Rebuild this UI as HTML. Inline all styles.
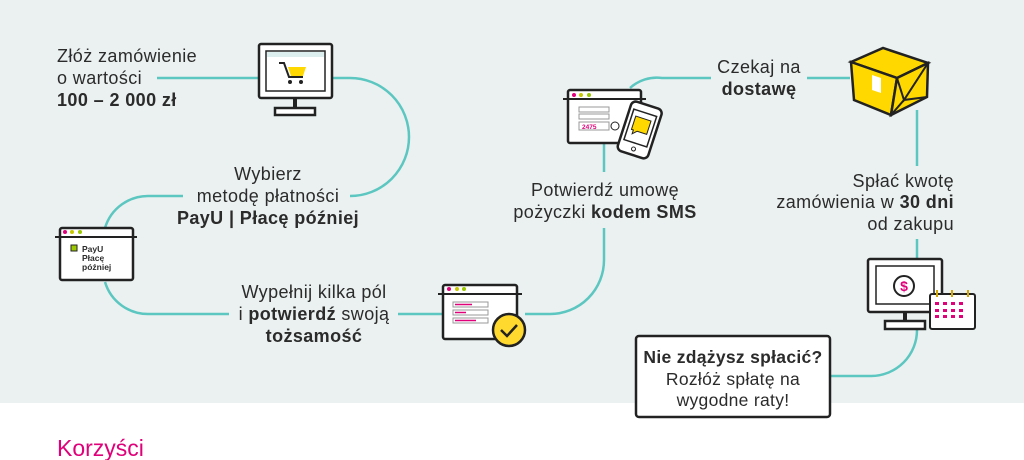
<!DOCTYPE html>
<html><head><meta charset="utf-8"><style>
html,body{margin:0;padding:0;background:#fff;}
svg{display:block}
text{font-family:"Liberation Sans",sans-serif;fill:#2b2b2b;}
</style></head><body>
<svg width="1024" height="460" viewBox="0 0 1024 460" xmlns="http://www.w3.org/2000/svg">
<rect x="0" y="0" width="1024" height="403" fill="#ebf1f1"/>
<g fill="none" stroke="#5cc6c0" stroke-width="2.5">
<path d="M157 78 H258"/>
<path d="M333 78 H350 A59 59 0 0 1 350 196"/>
<path d="M183 196 H150 A45 45 0 0 0 105 228"/>
<path d="M105 282 A45 45 0 0 0 150 314 H229"/>
<path d="M398 314 H443"/>
<path d="M525 314 H550 A54 54 0 0 0 604 260 V228"/>
<path d="M604 172 V143"/>
<path d="M630 88 A40 40 0 0 1 662 78 H711"/>
<path d="M807 78 H850"/>
<path d="M917 110 V166"/>
<path d="M917 239 V258"/>
<path d="M917 330 A46 46 0 0 1 871 376 H831"/>
</g>
<g stroke="#222" stroke-width="2.5">
<rect x="259" y="44" width="73" height="54" rx="2" fill="#fff"/>
<rect x="266" y="51" width="59" height="40" fill="#fff" stroke-width="1.5"/>
<rect x="267" y="52" width="57" height="5" fill="#dceeee" stroke="none"/>
<rect x="293" y="98" width="4" height="10" fill="#222" stroke="none"/>
<rect x="275" y="108" width="40" height="7" fill="#fff"/>
</g>
<path d="M288 67 H306 L303 76 H291 Z" fill="#ffd800"/>
<path d="M279 63 H284 L289 77 H303" fill="none" stroke="#222" stroke-width="2"/>
<circle cx="290" cy="82" r="2" fill="#222"/><circle cx="301" cy="82" r="2" fill="#222"/>
<rect x="60" y="228" width="73" height="52" rx="2" fill="#fff" stroke="#222" stroke-width="2.5"/>
<line x1="55" y1="237" x2="137" y2="237" stroke="#222" stroke-width="2"/>
<circle cx="65" cy="232" r="2" fill="#e0007a"/><circle cx="72" cy="232" r="2" fill="#c8c800"/><circle cx="80" cy="232" r="2" fill="#9bc800"/>
<rect x="71" y="245" width="6" height="6" fill="#9bc800" stroke="#222"/>
<text x="82" y="252" font-size="8.5" font-weight="bold">PayU</text>
<text x="82" y="261" font-size="8.5" font-weight="bold">Płacę</text>
<text x="82" y="270" font-size="8.5" font-weight="bold">później</text>
<rect x="443" y="285" width="74" height="54" rx="2" fill="#fff" stroke="#222" stroke-width="2.5"/>
<line x1="438" y1="294" x2="522" y2="294" stroke="#222" stroke-width="2"/>
<circle cx="449" cy="289" r="2" fill="#e0007a"/><circle cx="457" cy="289" r="2" fill="#c8c800"/><circle cx="464" cy="289" r="2" fill="#9bc800"/>
<g fill="#fff" stroke="#999" stroke-width="1"><rect x="453" y="302" width="35" height="5"/><rect x="453" y="310" width="35" height="5"/><rect x="453" y="318" width="35" height="5"/></g>
<g stroke="#e0007a" stroke-width="1.5"><line x1="455" y1="304.5" x2="472" y2="304.5"/><line x1="455" y1="312.5" x2="466" y2="312.5"/><line x1="455" y1="320.5" x2="476" y2="320.5"/></g>
<circle cx="509" cy="330" r="16" fill="#ffd92e" stroke="#222" stroke-width="2.5"/>
<path d="M501 330 L507 336 L517 325" fill="none" stroke="#222" stroke-width="2.5"/>
<rect x="568" y="90" width="73" height="53" rx="2" fill="#fff" stroke="#222" stroke-width="2.5"/>
<line x1="563" y1="99" x2="646" y2="99" stroke="#222" stroke-width="2"/>
<circle cx="574" cy="95" r="2" fill="#e0007a"/><circle cx="581" cy="95" r="2" fill="#c8c800"/><circle cx="589" cy="95" r="2" fill="#9bc800"/>
<g fill="#fff" stroke="#999"><rect x="579" y="107" width="30" height="5"/><rect x="579" y="114" width="30" height="5"/><rect x="579" y="122" width="30" height="8"/></g>
<text x="582" y="129" font-size="6.5" font-weight="bold" style="fill:#e0007a">2475</text>
<circle cx="615" cy="126" r="4" fill="#fff" stroke="#222"/>
<g transform="rotate(18 640 129)"><rect x="624" y="104" width="32" height="52" rx="5" fill="#fff" stroke="#222" stroke-width="2.5"/><rect x="628" y="112" width="24" height="32" fill="#fff" stroke="#222" stroke-width="1.5"/><path d="M632 118 H648 V132 H638 L634 136 V132 H632 Z" fill="#ffd800" stroke="#222"/><circle cx="640" cy="150" r="2" fill="none" stroke="#222"/></g>
<path d="M851 62 L883 48 L928 63 L897 78 Z" fill="#ffd800" stroke="#222" stroke-width="2.5"/>
<path d="M851 62 L897 78 L891 115 L854 100 Z" fill="#ffd800" stroke="#222" stroke-width="2.5"/>
<path d="M897 78 L928 63 L927 97 L891 115 Z" fill="#ffd800" stroke="#222" stroke-width="2.5"/>
<path d="M897 78 L904 100 L928 63 M891 115 L904 100 L927 97" fill="none" stroke="#222" stroke-width="2"/>
<path d="M872 75 L881 78 L881 93 L872 90 Z" fill="#fff"/>
<g stroke="#222" stroke-width="2.5">
<rect x="868" y="259" width="74" height="53" rx="2" fill="#fff"/>
<rect x="876" y="266" width="58" height="38" fill="#fff" stroke-width="1.5"/>
<rect x="903" y="312" width="4" height="9" fill="#222" stroke="none"/>
<rect x="885" y="321" width="40" height="8" fill="#fff"/>
</g>
<circle cx="904" cy="286" r="10" fill="#fff" stroke="#222" stroke-width="2"/>
<text x="904" y="291" font-size="14" font-weight="bold" text-anchor="middle" style="fill:#e0007a">$</text>
<rect x="930" y="294" width="45" height="35" rx="2" fill="#fff" stroke="#222" stroke-width="2"/>
<g fill="#e0007a"><rect x="935" y="302" width="4" height="3"/><rect x="943" y="302" width="4" height="3"/><rect x="951" y="302" width="4" height="3"/><rect x="959" y="302" width="4" height="3"/><rect x="935" y="309" width="4" height="3"/><rect x="943" y="309" width="4" height="3"/><rect x="951" y="309" width="4" height="3"/><rect x="959" y="309" width="4" height="3"/><rect x="935" y="315" width="4" height="3"/><rect x="943" y="315" width="4" height="3"/><rect x="951" y="315" width="4" height="3"/><rect x="959" y="315" width="4" height="3"/></g>
<g stroke="#d4a800" stroke-width="2"><line x1="937" y1="290" x2="937" y2="297"/><line x1="952" y1="290" x2="952" y2="297"/><line x1="968" y1="290" x2="968" y2="297"/></g>
<rect x="636" y="336" width="194" height="81" rx="3" fill="#fff" stroke="#222" stroke-width="2.5"/>
<g font-size="17.5" text-anchor="middle" letter-spacing="0.3">
<text x="733" y="363" font-weight="bold">Nie zdążysz spłacić?</text>
<text x="733" y="385">Rozłóż spłatę na</text>
<text x="733" y="406">wygodne raty!</text>
</g>
<g font-size="18" letter-spacing="0.4">
<text x="57" y="62">Złóż zamówienie</text>
<text x="57" y="84">o wartości</text>
<text x="57" y="106" font-weight="bold">100 – 2 000 zł</text>
</g>
<g font-size="18" text-anchor="middle" letter-spacing="0.4">
<text x="268" y="180">Wybierz</text>
<text x="268" y="202">metodę płatności</text>
<text x="268" y="224" font-weight="bold">PayU | Płacę później</text>
<text x="314" y="298">Wypełnij kilka pól</text>
<text x="314" y="320">i <tspan font-weight="bold">potwierdź</tspan> swoją</text>
<text x="314" y="342" font-weight="bold">tożsamość</text>
<text x="605" y="196">Potwierdź umowę</text>
<text x="605" y="218">pożyczki <tspan font-weight="bold">kodem SMS</tspan></text>
<text x="759" y="73">Czekaj na</text>
<text x="759" y="95" font-weight="bold">dostawę</text>
</g>
<g font-size="18" text-anchor="end" letter-spacing="0.4">
<text x="954" y="187">Spłać kwotę</text>
<text x="954" y="208">zamówienia w <tspan font-weight="bold">30 dni</tspan></text>
<text x="954" y="230">od zakupu</text>
</g>
<text x="57" y="456" font-size="23" style="fill:#e0007a">Korzyści</text>
</svg>
</body></html>
